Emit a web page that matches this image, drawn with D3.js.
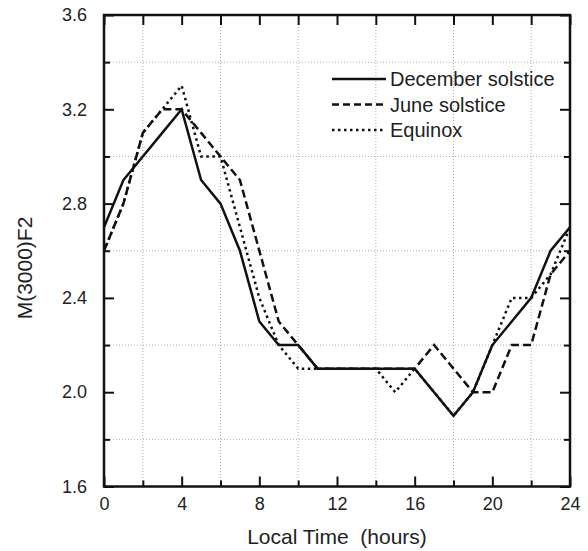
<!DOCTYPE html>
<html>
<head>
<meta charset="utf-8">
<script src="https://cdn.jsdelivr.net/npm/d3@7"></script>
<style>
  body { margin: 0; background: #fff; }
  text { font-family: "Liberation Sans", Arial, sans-serif; fill: #222; }
</style>
</head>
<body>
<svg id="chart"></svg>
<script>
// hours of local time
const hours = [0,1,2,3,4,5,6,7,8,9,10,11,12,13,14,15,16,17,18,19,20,21,22,23,24];

// M(3000)F2
const december = [2.7,2.9,3.0,3.1,3.2,2.9,2.8,2.6,2.3,2.2,2.2,2.1,2.1,2.1,2.1,2.1,2.1,2.0,1.9,2.0,2.2,2.3,2.4,2.6,2.7];
const june     = [2.6,2.8,3.1,3.2,3.2,3.1,3.0,2.9,2.6,2.3,2.2,2.1,2.1,2.1,2.1,2.1,2.1,2.2,2.1,2.0,2.0,2.2,2.2,2.5,2.6];
const equinox  = [2.6,2.8,3.1,3.2,3.3,3.0,3.0,2.7,2.4,2.2,2.1,2.1,2.1,2.1,2.1,2.0,2.1,2.0,1.9,2.0,2.2,2.4,2.4,2.5,2.7];

const seriesNames = ["December solstice", "June solstice", "Equinox"];

const xMajor = [0,4,8,12,16,20,24];
const xMinor = [2,6,10,14,18,22];
const yMajor = [1.6,2.0,2.4,2.8,3.2,3.6];
const yMinor = [1.8,2.2,2.6,3.0,3.4];

const svgWidth = 588, svgHeight = 551;
const plotLeft = 104, plotRight = 570, plotTop = 15, plotBottom = 486.5;

const svg = d3.select("#chart")
    .attr("width", svgWidth)
    .attr("height", svgHeight);

const x = d3.scaleLinear().domain([0, 24]).range([plotLeft, plotRight]);
const y = d3.scaleLinear().domain([1.6, 3.6]).range([plotBottom, plotTop]);

// dotted grid
svg.append("g").selectAll("line")
    .data(xMinor)
    .enter()
    .append("line")
    .attr("x1", d => x(d)).attr("x2", d => x(d))
    .attr("y1", plotTop).attr("y2", plotBottom)
    .attr("stroke", "#b0b0b0")
    .attr("stroke-width", 1)
    .attr("stroke-dasharray", "1,2");

svg.append("g").selectAll("line")
    .data(yMinor)
    .enter()
    .append("line")
    .attr("y1", d => y(d)).attr("y2", d => y(d))
    .attr("x1", plotLeft).attr("x2", plotRight)
    .attr("stroke", "#b0b0b0")
    .attr("stroke-width", 1)
    .attr("stroke-dasharray", "1,2");

// axes, ticks pointing inward
function styleAxis(g) {
    g.select(".domain").remove();
    g.selectAll(".tick line").attr("stroke", "#111").attr("stroke-width", 2);
    g.selectAll(".tick text").style("font-size", "18px").attr("fill", "#222");
}

svg.append("g").attr("transform", `translate(0,${plotBottom})`)
    .call(d3.axisBottom(x).tickValues(xMajor).tickSize(-10).tickPadding(11).tickFormat(d3.format("d")))
    .call(styleAxis);
svg.append("g").attr("transform", `translate(0,${plotBottom})`)
    .call(d3.axisBottom(x).tickValues(xMinor).tickSize(-6).tickFormat(""))
    .call(styleAxis);
svg.append("g").attr("transform", `translate(0,${plotTop})`)
    .call(d3.axisTop(x).tickValues(xMajor.concat(xMinor)).tickSize(-10).tickFormat(""))
    .call(styleAxis);

svg.append("g").attr("transform", `translate(${plotLeft},0)`)
    .call(d3.axisLeft(y).tickValues(yMajor).tickSize(-10).tickPadding(17).tickFormat(d3.format(".1f")))
    .call(styleAxis);
svg.append("g").attr("transform", `translate(${plotLeft},0)`)
    .call(d3.axisLeft(y).tickValues(yMinor).tickSize(-6).tickFormat(""))
    .call(styleAxis);
svg.append("g").attr("transform", `translate(${plotRight},0)`)
    .call(d3.axisRight(y).tickValues(yMajor).tickSize(-10).tickFormat(""))
    .call(styleAxis);
svg.append("g").attr("transform", `translate(${plotRight},0)`)
    .call(d3.axisRight(y).tickValues(yMinor).tickSize(-6).tickFormat(""))
    .call(styleAxis);

// series lines
const series = [
    {name: seriesNames[2], values: equinox, dash: "2.5,3.5"},
    {name: seriesNames[1], values: june, dash: "8,4"},
    {name: seriesNames[0], values: december, dash: null}
];

const line = d3.line()
    .x((d, i) => x(hours[i]))
    .y(d => y(d));

svg.append("g").selectAll("path")
    .data(series)
    .enter()
    .append("path")
    .attr("d", d => line(d.values))
    .attr("fill", "none")
    .attr("stroke", "#111")
    .attr("stroke-width", 2.5)
    .attr("stroke-dasharray", d => d.dash);

// frame
svg.append("rect")
    .attr("x", plotLeft).attr("y", plotTop)
    .attr("width", plotRight - plotLeft).attr("height", plotBottom - plotTop)
    .attr("fill", "none")
    .attr("stroke", "#111")
    .attr("stroke-width", 2.5);

// legend
const legendItems = [
    {name: seriesNames[0], dash: null},
    {name: seriesNames[1], dash: "7,4"},
    {name: seriesNames[2], dash: "2.5,3.5"}
];
const legend = svg.append("g");
legend.selectAll("line")
    .data(legendItems)
    .enter()
    .append("line")
    .attr("x1", 332).attr("x2", 386)
    .attr("y1", (d, i) => 79 + i * 25.5)
    .attr("y2", (d, i) => 79 + i * 25.5)
    .attr("stroke", "#111")
    .attr("stroke-width", 2.5)
    .attr("stroke-dasharray", d => d.dash);
legend.selectAll("text")
    .data(legendItems)
    .enter()
    .append("text")
    .attr("x", 390)
    .attr("y", (d, i) => 79 + i * 25.5)
    .attr("dy", "0.35em")
    .style("font-size", "20px")
    .text(d => d.name);

// axis titles
svg.append("text")
    .attr("x", 337)
    .attr("y", 544)
    .attr("text-anchor", "middle")
    .attr("xml:space", "preserve")
    .style("white-space", "pre")
    .style("font-size", "21px")
    .text("Local Time  (hours)");

svg.append("text")
    .attr("transform", "translate(32,268) rotate(-90)")
    .attr("text-anchor", "middle")
    .style("font-size", "21px")
    .text("M(3000)F2");
</script>
</body>
</html>
